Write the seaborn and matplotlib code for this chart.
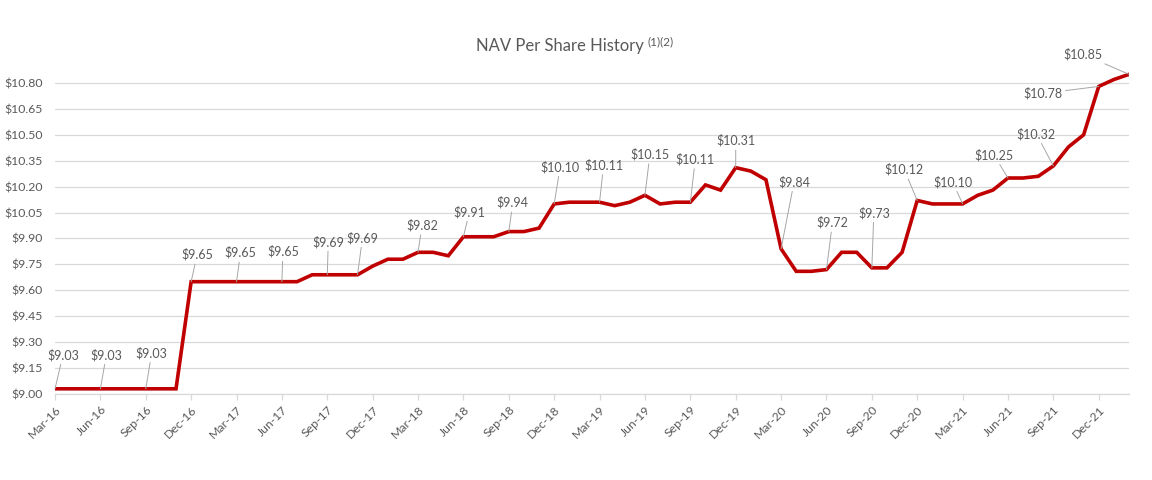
import numpy as np
import pandas as pd
import matplotlib
matplotlib.use("Agg")
import matplotlib.pyplot as plt
import seaborn as sns

# ---------------- data ----------------
months = pd.date_range("2016-03-01", periods=72, freq="MS")
nav = [
    9.03, 9.03, 9.03, 9.03, 9.03, 9.03, 9.03, 9.03, 9.03,          # Mar-16 .. Nov-16
    9.65, 9.65, 9.65, 9.65, 9.65, 9.65, 9.65, 9.65,                # Dec-16 .. Jul-17
    9.69, 9.69, 9.69, 9.69,                                        # Aug-17 .. Nov-17
    9.74, 9.78, 9.78, 9.82, 9.82, 9.80, 9.91, 9.91, 9.91,          # Dec-17 .. Aug-18
    9.94, 9.94, 9.96, 10.10, 10.11, 10.11, 10.11, 10.09, 10.11,    # Sep-18 .. May-19
    10.15, 10.10, 10.11, 10.11, 10.21, 10.18, 10.31, 10.29, 10.24, # Jun-19 .. Feb-20
    9.84, 9.71, 9.71, 9.72, 9.82, 9.82, 9.73, 9.73, 9.82,          # Mar-20 .. Nov-20
    10.12, 10.10, 10.10, 10.10, 10.15, 10.18, 10.25, 10.25, 10.26, # Dec-20 .. Aug-21
    10.32, 10.43, 10.50, 10.78, 10.82, 10.85,                      # Sep-21 .. Feb-22
]
tick_labels = ["Mar-16", "Jun-16", "Sep-16", "Dec-16", "Mar-17", "Jun-17", "Sep-17",
               "Dec-17", "Mar-18", "Jun-18", "Sep-18", "Dec-18", "Mar-19", "Jun-19",
               "Sep-19", "Dec-19", "Mar-20", "Jun-20", "Sep-20", "Dec-20", "Mar-21",
               "Jun-21", "Sep-21", "Dec-21"]
y_ticks = [9.00, 9.15, 9.30, 9.45, 9.60, 9.75, 9.90, 10.05, 10.20, 10.35, 10.50, 10.65, 10.80]
labeled_months = [0, 3, 6, 9, 12, 15, 18, 20, 24, 27, 30, 33, 36, 39, 42, 45,
                  48, 51, 54, 57, 60, 63, 66, 69, 71]

# label offsets (pixels: dx right, dy up) -- layout only
label_offsets = {
    0: (8, 34), 3: (6, 34), 6: (6, 36), 9: (6, 27), 12: (4, 29), 15: (1, 30),
    18: (1, 33), 20: (5, 37), 24: (4, 27), 27: (6, 25), 30: (4, 29), 33: (6, 37),
    36: (4, 37), 39: (5, 41), 42: (5, 43), 45: (0, 27), 48: (13, 67), 51: (6, 47),
    54: (2, 55), 57: (-13, 31), 60: (-10, 22), 63: (-14, 23), 66: (-17, 32),
    69: (-56, -7), 71: (-46, 20),
}

df = pd.DataFrame({"idx": np.arange(len(months)), "month": months, "nav": nav})

# ---------------- style ----------------
sns.set_theme(style="white")
plt.rcParams["font.family"] = ["Lato", "DejaVu Sans"]
TXT = "#595959"
GRID = "#D9D9D9"
RED = "#C00000"

fig = plt.figure(figsize=(11.52, 4.80), dpi=100)
ax = fig.add_axes([55 / 1152, 1 - 394 / 480, (1129 - 55) / 1152, (394 - 65.7) / 480])

sns.lineplot(data=df, x="idx", y="nav", color=RED, linewidth=2.6, ax=ax,
             solid_joinstyle="miter", zorder=3)

ax.set_xlim(0, len(months) - 1)
ax.set_ylim(9.0, 10.9)
ax.set_yticks(y_ticks)
ax.set_yticklabels([f"${v:.2f}" for v in y_ticks])
tick_pos = [df["idx"][i] for i in range(0, len(months), 3)][:len(tick_labels)]
ax.set_xticks(tick_pos)
ax.set_xticklabels(tick_labels, rotation=45, ha="right", rotation_mode="anchor")

ax.grid(axis="y", color=GRID, linewidth=0.9)
ax.grid(axis="x", visible=False)
ax.set_axisbelow(True)
for s in ["top", "right", "left"]:
    ax.spines[s].set_visible(False)
ax.spines["bottom"].set_color(GRID)
ax.spines["bottom"].set_linewidth(0.9)
ax.tick_params(axis="y", length=0, pad=9, labelsize=8.8, labelcolor=TXT)
ax.tick_params(axis="x", length=4, width=0.9, color=GRID, pad=3, labelsize=8.8,
               labelcolor=TXT, bottom=True)
ax.set_xlabel("")
ax.set_ylabel("")
ax.set_facecolor("white")

for i in labeled_months:
    dx, dy = label_offsets[i]
    v = nav[i]
    ax.annotate(f"${v:.2f}", xy=(df["idx"][i], v), xytext=(dx, dy),
                textcoords="offset pixels", ha="center", va="center",
                fontsize=9, color=TXT, zorder=4, annotation_clip=False,
                arrowprops=dict(arrowstyle="-", color="#A6A6A6", lw=0.7,
                                shrinkA=0, shrinkB=0))

fig.text(560 / 1152, 1 - 46 / 480, "NAV Per Share History", ha="center", va="center",
         fontsize=12, color=TXT)
fig.text(647 / 1152, 1 - 42 / 480, "(1)(2)", ha="left", va="center",
         fontsize=8.5, color=TXT)

fig.savefig("out.png", dpi=100, facecolor="white")
